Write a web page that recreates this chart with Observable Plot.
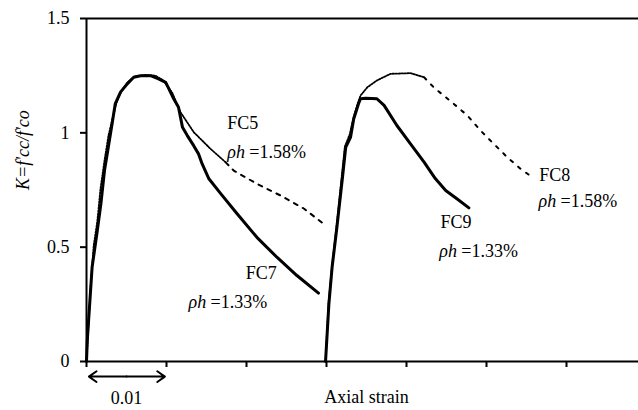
<!DOCTYPE html>
<html>
<head>
<meta charset="utf-8">
<script src="https://cdn.jsdelivr.net/npm/d3@7"></script>
<script src="https://cdn.jsdelivr.net/npm/@observablehq/plot@0.6"></script>
<style>
  html, body { margin: 0; padding: 0; background: #fff; }
  #chart svg { display: block; }
  #chart svg, #chart svg text { font-family: "Liberation Serif", "DejaVu Serif", serif !important; }
</style>
</head>
<body>
<div id="chart"></div>
<script>
// FC7 (solid, ρh = 1.33%)
const fc7Strain = [0, 0.0001, 0.0007, 0.0013, 0.0018, 0.00225, 0.0026, 0.0032, 0.0036, 0.00425, 0.0051, 0.0059, 0.00675, 0.008, 0.009, 0.0099, 0.0103, 0.0109, 0.0115, 0.0120, 0.0126, 0.0134, 0.0140, 0.01446, 0.0153, 0.01675, 0.0188, 0.0213, 0.0238, 0.0263, 0.0290];
const fc7K      = [0, 0.092, 0.412, 0.56, 0.69, 0.835, 0.91, 1.04, 1.128, 1.178, 1.214, 1.243, 1.25, 1.25, 1.236, 1.221, 1.192, 1.149, 1.112, 1.024, 0.988, 0.944, 0.908, 0.864, 0.799, 0.735, 0.647, 0.543, 0.456, 0.376, 0.299];

// FC5 (dotted, ρh = 1.58%)
const fc5Strain = [0, 0.0005, 0.0009, 0.00134, 0.00175, 0.00225, 0.00275, 0.00325, 0.00375, 0.0044, 0.0051, 0.0060, 0.0074, 0.0086, 0.0096, 0.0107, 0.01175, 0.0134, 0.0155, 0.0174, 0.0184, 0.0213, 0.02425, 0.0272, 0.0299];
const fc5K      = [0, 0.319, 0.507, 0.609, 0.755, 0.879, 0.988, 1.063, 1.132, 1.185, 1.22, 1.246, 1.253, 1.25, 1.229, 1.176, 1.09, 1.003, 0.93, 0.871, 0.835, 0.777, 0.726, 0.668, 0.595];

// FC9 (solid, ρh = 1.33%)
const fc9Strain = [0.02988, 0.0303, 0.0307, 0.0313, 0.0320, 0.0324, 0.0330, 0.0334, 0.0340, 0.03425, 0.0349, 0.0363, 0.0372, 0.0388, 0.0405, 0.0422, 0.0436, 0.0449, 0.0463, 0.0478];
const fc9K      = [0, 0.252, 0.412, 0.587, 0.805, 0.937, 0.98, 1.06, 1.127, 1.149, 1.151, 1.149, 1.12, 1.032, 0.952, 0.872, 0.80, 0.748, 0.712, 0.672];

// FC8 (dotted, ρh = 1.58%)
const fc8Strain = [0.02988, 0.03025, 0.0307, 0.03125, 0.0319, 0.0323, 0.0329, 0.0334, 0.0339, 0.03425, 0.0351, 0.0363, 0.0380, 0.0405, 0.0422, 0.0434, 0.0459, 0.0476, 0.04925, 0.0509, 0.0526, 0.05425, 0.0557];
const fc8K      = [0, 0.254, 0.42, 0.59, 0.809, 0.94, 0.993, 1.071, 1.128, 1.163, 1.199, 1.229, 1.258, 1.261, 1.243, 1.199, 1.127, 1.076, 1.01, 0.952, 0.893, 0.843, 0.806];

// Axis ticks
const yTicks = [0, 0.5, 1, 1.5];
const xTicks = [0, 0.01, 0.02, 0.03, 0.04, 0.05, 0.06];

// Curve labels
const labelNames  = ["FC5", "FC7", "FC9", "FC8"];
const labelRatios = ["=1.58%", "=1.33%", "=1.33%", "=1.58%"];
const nameStrain  = [0.0176, 0.0199, 0.04425, 0.0566];
const nameK       = [1.041, 0.385, 0.608, 0.813];
const ratioStrain = [0.0176, 0.01275, 0.0441, 0.0565];
const ratioK      = [0.914, 0.258, 0.481, 0.70];

const toRows = (xs, ys) => xs.map((x, i) => ({x, y: ys[i]}));
const fc7 = toRows(fc7Strain, fc7K);
const fc5 = toRows(fc5Strain, fc5K);
const fc9 = toRows(fc9Strain, fc9K);
const fc8 = toRows(fc8Strain, fc8K);
const names = labelNames.map((t, i) => ({t, x: nameStrain[i], y: nameK[i]}));
const ratios = labelRatios.map((t, i) => ({t, x: ratioStrain[i], y: ratioK[i]}));

// scale bar (0.01 strain) drawn as two arrows from its middle
const scaleBar = [{x1: 0.005, x2: 0.0003}, {x1: 0.005, x2: 0.0098}];

const chart = Plot.plot({
  width: 638,
  height: 410,
  marginLeft: 86,
  marginRight: 0,
  marginTop: 18,
  marginBottom: 49,
  style: {fontFamily: "Liberation Serif", fontSize: "18px", color: "#000", background: "#fff"},
  x: {domain: [0, 0.069]},
  y: {domain: [0, 1.5]},
  marks: [
    Plot.axisY({ticks: yTicks, tickFormat: d => String(d), tickSize: 6, tickPadding: 11, strokeWidth: 2, label: null, fontSize: 18}),
    Plot.axisX({ticks: xTicks, tickFormat: () => "", tickSize: 6, strokeWidth: 2, label: null}),
    Plot.ruleY([0], {strokeWidth: 2.2}),
    Plot.ruleY([1.5], {strokeWidth: 2}),
    Plot.ruleX([0], {strokeWidth: 2}),
    // dotted series
    Plot.line(fc5.filter(d => d.x <= 0.0175), {x: "x", y: "y", strokeWidth: 1.8, strokeDasharray: "1.5,1.5"}),
    Plot.line(fc5.filter(d => d.x >= 0.0174), {x: "x", y: "y", strokeWidth: 2, strokeDasharray: "4,6"}),
    Plot.line(fc8.filter(d => d.x <= 0.0423), {x: "x", y: "y", strokeWidth: 1.8, strokeDasharray: "1.5,1.5"}),
    Plot.line(fc8.filter(d => d.x >= 0.0422), {x: "x", y: "y", strokeWidth: 2, strokeDasharray: "3,7"}),
    // solid series
    Plot.line(fc7, {x: "x", y: "y", strokeWidth: 3, strokeLinejoin: "round"}),
    Plot.line(fc9, {x: "x", y: "y", strokeWidth: 3, strokeLinejoin: "round"}),
    // labels
    Plot.text(names, {x: "x", y: "y", text: "t", textAnchor: "start", fontSize: 18, fill: "black"}),
    Plot.text(ratios, {x: "x", y: "y", text: () => "ρh", textAnchor: "start", fontStyle: "italic", fontSize: 18, fill: "black"}),
    Plot.text(ratios, {x: "x", y: "y", text: "t", textAnchor: "start", dx: 22, fontSize: 18, letterSpacing: "1px", fill: "black"}),
    // scale annotation: double arrow for 0.01
    Plot.arrow(scaleBar, {x1: "x1", x2: "x2", y1: -0.066, y2: -0.066, strokeWidth: 2, headLength: 7, headAngle: 70, stroke: "black"}),
    Plot.text(["0.01"], {x: 0.005, y: -0.162, fontSize: 18, fill: "black"}),
    Plot.text(["Axial strain"], {x: 0.035, y: -0.157, fontSize: 18, fill: "black"}),
    Plot.text(["K=f'cc/f'co"], {frameAnchor: "left", dx: -63, rotate: -90, fontStyle: "italic", fontSize: 18, fill: "black"})
  ]
});
document.getElementById("chart").appendChild(chart);
</script>
</body>
</html>
